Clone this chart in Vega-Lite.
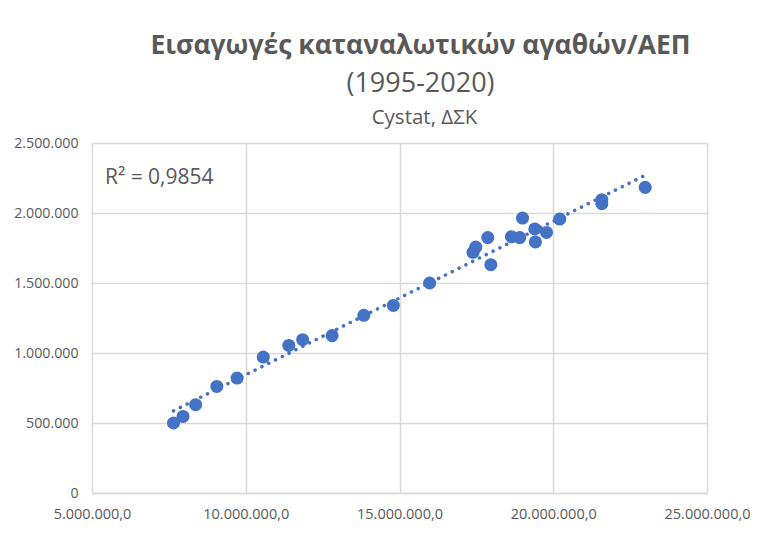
{
  "$schema": "https://vega.github.io/schema/vega-lite/v6.json",
  "width": 615,
  "height": 350,
  "autosize": "none",
  "padding": {"left": 92, "top": 143, "right": 53, "bottom": 41},
  "background": "white",
  "config": {
    "locale": {"number": {"decimal": ",", "thousands": ".", "grouping": [3], "currency": ["", " €"]}},
    "font": "Open Sans",
    "view": {"stroke": null}
  },
  "title": {
    "text": "Εισαγωγές καταναλωτικών αγαθών/ΑΕΠ",
    "subtitle": "(1995-2020)",
    "fontSize": 26.5,
    "fontWeight": "bold",
    "color": "#595959",
    "subtitleFontSize": 27,
    "subtitleColor": "#595959",
    "subtitleFont": "Open Sans",
    "subtitlePadding": 12,
    "anchor": "middle",
    "dx": 21,
    "offset": 10
  },
  "data": {
    "values": [
      {"gdp": 7650000, "imports": 500000},
      {"gdp": 7960000, "imports": 547000},
      {"gdp": 8370000, "imports": 631000},
      {"gdp": 9060000, "imports": 761000},
      {"gdp": 9720000, "imports": 821000},
      {"gdp": 10570000, "imports": 971000},
      {"gdp": 11400000, "imports": 1054000},
      {"gdp": 11850000, "imports": 1095000},
      {"gdp": 12810000, "imports": 1124000},
      {"gdp": 13840000, "imports": 1269000},
      {"gdp": 14800000, "imports": 1340000},
      {"gdp": 15980000, "imports": 1500000},
      {"gdp": 17390000, "imports": 1719000},
      {"gdp": 17480000, "imports": 1757000},
      {"gdp": 17870000, "imports": 1824000},
      {"gdp": 17970000, "imports": 1631000},
      {"gdp": 18640000, "imports": 1831000},
      {"gdp": 18910000, "imports": 1824000},
      {"gdp": 19000000, "imports": 1964000},
      {"gdp": 19400000, "imports": 1886000},
      {"gdp": 19420000, "imports": 1793000},
      {"gdp": 19780000, "imports": 1861000},
      {"gdp": 20210000, "imports": 1957000},
      {"gdp": 21580000, "imports": 2095000},
      {"gdp": 21580000, "imports": 2066000},
      {"gdp": 22990000, "imports": 2183000}
    ]
  },
  "layer": [
    {
      "mark": {"type": "circle", "size": 170, "color": "#4472C4", "opacity": 1},
      "encoding": {
        "x": {
          "field": "gdp", "type": "quantitative",
          "scale": {"domain": [5000000, 25000000], "nice": false, "zero": false},
          "axis": {
            "title": null, "values": [5000000, 10000000, 15000000, 20000000, 25000000],
            "format": ",.1f", "grid": true, "gridColor": "#d9d9d9", "gridWidth": 1.5,
            "domain": true, "domainColor": "#d9d9d9", "domainWidth": 1.5,
            "ticks": false, "labelColor": "#595959", "labelFontSize": 14.5, "labelPadding": 14,
            "labelFlush": false, "labelOverlap": false, "labelBound": false
          }
        },
        "y": {
          "field": "imports", "type": "quantitative",
          "scale": {"domain": [0, 2500000], "nice": false},
          "axis": {
            "title": null, "values": [0, 500000, 1000000, 1500000, 2000000, 2500000],
            "format": ",.0f", "grid": true, "gridColor": "#d9d9d9", "gridWidth": 1.5,
            "domain": false, "ticks": false, "labelColor": "#595959", "labelFontSize": 14.2, "labelPadding": 14,
            "labelFlush": false, "labelOverlap": false
          }
        }
      }
    },
    {
      "transform": [{"regression": "imports", "on": "gdp"}],
      "mark": {"type": "line", "color": "#4472C4", "strokeWidth": 3.5, "strokeDash": [0.1, 7.5], "strokeCap": "round"},
      "encoding": {
        "x": {
          "field": "gdp", "type": "quantitative",
          "axis": {
            "orient": "top", "title": "Cystat, ΔΣΚ", "labels": false, "ticks": false, "domain": false, "grid": false,
            "titleFontSize": 20.5, "titleFontWeight": "normal", "titleColor": "#595959", "titlePadding": 16,
            "titleX": 332
          }
        },
        "y": {"field": "imports", "type": "quantitative"}
      }
    },
    {
      "data": {"values": [{}]},
      "mark": {"type": "text", "align": "left", "baseline": "middle", "fontSize": 21, "color": "#595959"},
      "encoding": {
        "x": {"datum": 5420000, "type": "quantitative", "axis": null},
        "y": {"datum": 2252000, "type": "quantitative"},
        "text": {"value": "R² = 0,9854"}
      }
    }
  ],
  "resolve": {"axis": {"x": "independent"}}
}
